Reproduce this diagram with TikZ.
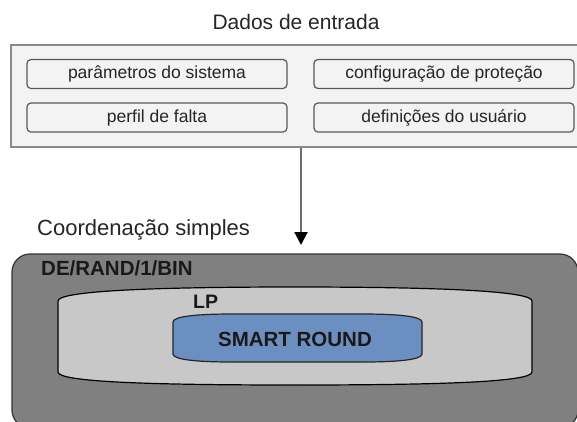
\documentclass[tikz,border=0pt]{standalone}
\usepackage{fontspec}
\setmainfont{Liberation Sans}
\usepackage{tikz}
\usetikzlibrary{positioning,calc,arrows.meta}

\definecolor{fundo}{HTML}{F3F3F3}
\definecolor{borda}{HTML}{8A8A8A}
\definecolor{escuro}{HTML}{808080}
\definecolor{claro}{HTML}{C8C8C8}
\definecolor{azul}{HTML}{6C8FC1}

\tikzset{
  campo/.style={draw=black!65, line width=1.2pt, rounded corners=4pt, fill=fundo,
    minimum width=260pt, minimum height=29pt, inner sep=0pt,
    font=\fontsize{17.5}{20}\selectfont, text=black!85},
  titulo/.style={font=\fontsize{21}{24}\selectfont, text=black!85, inner sep=0pt},
  rotulo/.style={font=\fontsize{20.5}{24}\bfseries\selectfont, text=black!90, inner sep=0pt}
}

\begin{document}
\begin{tikzpicture}[x=1pt,y=-1pt]

% Picture frame (the reference is 577 x 421 pixels)
\clip (0,0) rectangle (577,421);
\fill[white] (0,0) rectangle (577,421);

% Input data block
\node[titulo, anchor=base] (tdados) at (296,29) {Dados de entrada};
\node[draw=borda, line width=2pt, fill=fundo, minimum width=580pt,
      minimum height=102pt, inner sep=0pt] (dados) at (301,96) {};

% The four input fields
\node[campo] (param)  at (157,74)    {parâmetros do sistema};
\node[campo] (config) at (444,74)    {configuração de proteção};
\node[campo] (perfil) at (157,117.5) {perfil de falta};
\node[campo] (defin)  at (444,117.5) {definições do usuário};

% Arrow down to the coordination block
\coordinate (ponta) at (301,245);
\draw[borda!80!black, line width=2pt,
      -{Triangle[width=13pt,length=13pt,black]}] (dados.south) -- (ponta);

% Coordination block (dark, rounded)
\node[titulo, font=\fontsize{22}{25}\selectfont, anchor=base west]
  (tcoord) at (37,235) {Coordenação simples};
\filldraw[draw=black!80, line width=1.2pt, fill=escuro, rounded corners=18pt]
  (12,254) rectangle (578,428);
\node[rotulo, anchor=base west] (tde) at (41,275) {DE/RAND/1/BIN};

% LP block (light gray, curved top and bottom)
\filldraw[draw=black, line width=1.2pt, fill=claro]
  (58,301) .. controls (58,291) and (150,287) .. (295,287)
           .. controls (440,287) and (532,291) .. (532,301)
        -- (532,372)
           .. controls (532,382) and (440,385) .. (295,385)
           .. controls (150,385) and (58,382) .. (58,372)
        -- cycle;
\node[rotulo, font=\fontsize{19.5}{22}\bfseries\selectfont, anchor=base west]
  (tlp) at (193,308) {LP};

% Smart round block (blue)
\filldraw[draw=black!85, line width=1.2pt, fill=azul]
  (173,322) .. controls (173,316) and (200,314) .. (232,314)
         -- (363,314)
            .. controls (395,314) and (422,316) .. (422,322)
         -- (422,354)
            .. controls (422,360) and (395,362) .. (363,362)
         -- (232,362)
            .. controls (200,362) and (173,360) .. (173,354)
         -- cycle;
\node[rotulo, anchor=base] (tsmart) at (295,346.5) {SMART ROUND};

\end{tikzpicture}
\end{document}
